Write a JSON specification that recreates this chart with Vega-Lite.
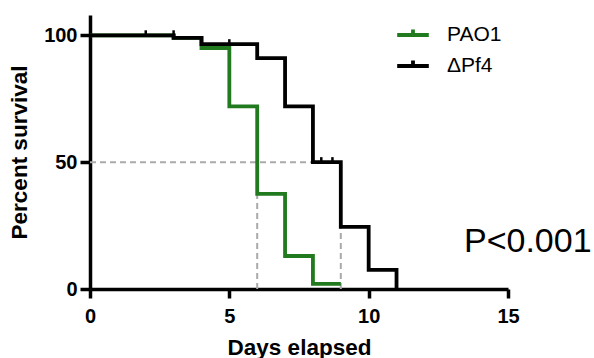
{
  "$schema": "https://vega.github.io/schema/vega-lite/v6.json",
  "width": 418,
  "height": 274,
  "autosize": {"type": "none"},
  "padding": {"left": 90, "top": 15, "right": 86, "bottom": 69},
  "config": {
    "view": {"stroke": null},
    "font": "Liberation Sans",
    "axis": {
      "domainColor": "black",
      "domainWidth": 3.5,
      "tickColor": "black",
      "tickWidth": 3.5,
      "grid": false,
      "labelFont": "Liberation Sans",
      "labelFontWeight": "bold",
      "labelFontSize": 20,
      "labelColor": "black",
      "titleFont": "Liberation Sans",
      "titleFontWeight": "bold",
      "titleFontSize": 22.5,
      "titleColor": "black"
    }
  },
  "datasets": {
    "survival": [
      {"group": "PAO1", "day": 0, "pct": 100},
      {"group": "PAO1", "day": 3, "pct": 99},
      {"group": "PAO1", "day": 4, "pct": 95},
      {"group": "PAO1", "day": 5, "pct": 72},
      {"group": "PAO1", "day": 6, "pct": 37.5},
      {"group": "PAO1", "day": 7, "pct": 13},
      {"group": "PAO1", "day": 8, "pct": 2},
      {"group": "PAO1", "day": 9, "pct": 2},
      {"group": "ΔPf4", "day": 0, "pct": 100},
      {"group": "ΔPf4", "day": 3, "pct": 99},
      {"group": "ΔPf4", "day": 4, "pct": 96.5},
      {"group": "ΔPf4", "day": 6, "pct": 91},
      {"group": "ΔPf4", "day": 7, "pct": 72},
      {"group": "ΔPf4", "day": 8, "pct": 50},
      {"group": "ΔPf4", "day": 9, "pct": 24.5},
      {"group": "ΔPf4", "day": 10, "pct": 7.5},
      {"group": "ΔPf4", "day": 11, "pct": 0}
    ],
    "censored": [
      {"group": "ΔPf4", "day": 2, "pct": 100},
      {"group": "ΔPf4", "day": 3, "pct": 100},
      {"group": "ΔPf4", "day": 5, "pct": 96.5},
      {"group": "ΔPf4", "day": 8.3, "pct": 50},
      {"group": "ΔPf4", "day": 8.7, "pct": 50}
    ],
    "medians": [
      {"day": 0, "day2": 9, "pct": 50, "pct2": 50},
      {"day": 6, "day2": 6, "pct": 0, "pct2": 50},
      {"day": 9, "day2": 9, "pct": 0, "pct2": 50}
    ],
    "note": [
      {"day": 13.42, "pct": 18.5, "label": "P<0.001"}
    ]
  },
  "encoding": {
    "x": {
      "field": "day",
      "type": "quantitative",
      "scale": {"domain": [0, 15], "nice": false, "zero": false},
      "axis": {
        "title": "Days elapsed",
        "values": [0, 5, 10, 15],
        "tickSize": 9,
        "labelPadding": 8,
        "titlePadding": 10,
        "labelFlush": false
      }
    },
    "y": {
      "field": "pct",
      "type": "quantitative",
      "scale": {"domain": [0, 108], "nice": false, "zero": false},
      "axis": {
        "title": "Percent survival",
        "values": [0, 50, 100],
        "tickSize": 10,
        "labelPadding": 3,
        "titlePadding": 12,
        "labelFlush": false
      }
    }
  },
  "layer": [
    {
      "data": {"name": "medians"},
      "mark": {"type": "rule", "color": "#aaaaaa", "strokeWidth": 2, "strokeDash": [6, 4]},
      "encoding": {
        "x2": {"field": "day2"},
        "y2": {"field": "pct2"}
      }
    },
    {
      "data": {"name": "survival"},
      "mark": {"type": "line", "interpolate": "step-after", "strokeWidth": 3.8},
      "encoding": {
        "color": {
          "field": "group",
          "type": "nominal",
          "scale": {"domain": ["PAO1", "ΔPf4"], "range": ["#217a1e", "#000000"]},
          "legend": {
            "orient": "none",
            "legendX": 305,
            "legendY": 2,
            "title": null,
            "symbolType": "M-1,0L1,0M0,0L0,-0.35",
            "symbolSize": 1000,
            "symbolStrokeWidth": 3.8,
            "labelFont": "Liberation Sans",
            "labelFontSize": 21,
            "labelColor": "black",
            "labelOffset": 16,
            "rowPadding": 3
          }
        }
      }
    },
    {
      "data": {"name": "censored"},
      "mark": {"type": "point", "shape": "M0,-1.6L0,0", "size": 39, "strokeWidth": 2.5, "opacity": 1, "filled": false},
      "encoding": {
        "color": {"field": "group", "type": "nominal"}
      }
    },
    {
      "data": {"name": "note"},
      "mark": {"type": "text", "align": "left", "baseline": "middle", "fontSize": 34, "font": "Liberation Sans", "color": "black"},
      "encoding": {
        "text": {"field": "label"}
      }
    }
  ]
}
